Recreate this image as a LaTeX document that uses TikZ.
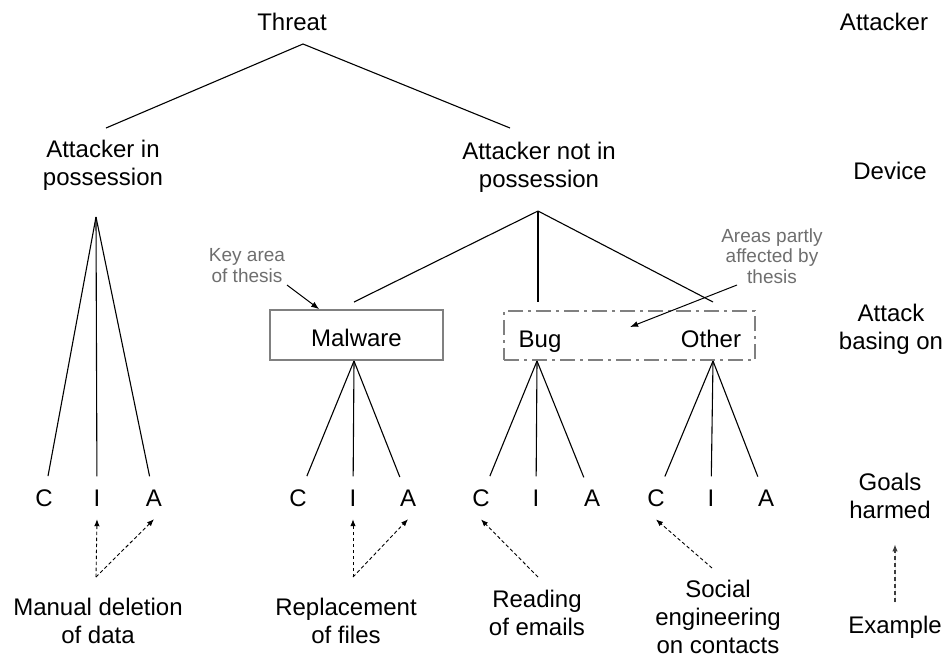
\documentclass[tikz,border=0pt]{standalone}
\usepackage{fontspec}
\setmainfont{Liberation Sans}
\usetikzlibrary{arrows.meta,calc}
\definecolor{boxgray}{HTML}{808080}
\definecolor{notegray}{HTML}{6E6E6E}
\definecolor{hintgray}{HTML}{3C3C3C}
\begin{document}
\begin{tikzpicture}[x=1pt,y=-1pt,
  % multi-line labels are placed by the baseline of their last line
  lbl/.style={inner sep=0pt, anchor=base, align=center,
    font=\fontsize{24}{28}\selectfont},
  note/.style={inner sep=0pt, anchor=base, align=center, text=notegray,
    font=\fontsize{19}{20.5}\selectfont},
  goal/.style={inner xsep=0pt, inner ysep=13pt, anchor=base,
    font=\fontsize{24}{28}\selectfont},
  branch/.style={line width=1.1pt},
  hint/.style={line width=0.9pt, dash pattern=on 3.5pt off 2.5pt,
    -{Latex[length=7pt,width=5.5pt]}},
  pointer/.style={line width=1pt, -{Latex[length=8pt,width=6pt]}}
]
\useasboundingbox (0,0) rectangle (947,662);

% level labels in the right column
\node[lbl] (lvA) at (884,30)  {Attacker};
\node[lbl] (lvD) at (890,179) {Device};
\node[lbl] (lvB) at (891,349) {Attack\\basing on};
\node[lbl] (lvG) at (890,518) {Goals\\harmed};
\node[lbl] (lvE) at (895,633) {Example};
\draw[hint, draw=hintgray, fill=hintgray, line width=1.1pt,
  dash pattern=on 4pt off 3pt, shorten <=13pt, shorten >=26pt]
  (lvE.north) -- (lvE.north |- lvG.south);

% root and device level
\node[lbl] (threat) at (292,30) {Threat};
\node[lbl] (inposs) at (103,185) {Attacker in\\possession};
\node[lbl] (notposs) at (539,187) {Attacker not in\\possession};

\coordinate (tApex) at (303,44);
\coordinate (tLeft) at (106,128);
\coordinate (tRight) at (510,128);
\draw[branch] (tLeft) -- (tApex) -- (tRight);

% attack basis
\node[draw=boxgray, line width=1.6pt, minimum width=173pt, minimum height=50pt,
  inner sep=0pt, text height=22pt, text depth=0pt,
  font=\fontsize{24}{28}\selectfont] (malware) at (356.5,335) {Malware};
\node[draw=boxgray, line width=1.6pt, dash pattern=on 15pt off 5pt on 3pt off 5pt,
  minimum width=251pt, minimum height=49pt, inner sep=0pt] (partbox) at (629.5,335.5) {};
\node[lbl] (bug) at (540,347) {Bug};
\node[lbl] (other) at (711,347) {Other};

\coordinate (nApex) at (538,211);
\coordinate (nMal) at (354,302);
\coordinate (nBug) at (538,302);
\coordinate (nOth) at (713,302);
\draw[branch] (nApex) -- (nMal);
\draw[branch] (nApex) -- (nBug);
\draw[branch] (nApex) -- (nOth);

% goals harmed: C I A under every branch
\coordinate (pApex) at (96,217);
\node[goal] (pC) at (44,506) {C};
\node[goal] (pI) at (97,506) {I};
\node[goal] (pA) at (154,506) {A};
\draw[branch] (pApex) -- (pC);
\draw[branch] (pApex) -- (pI);
\draw[branch] (pApex) -- (pA);

\coordinate (mApex) at (354,361);
\node[goal] (mC) at (298,506) {C};
\node[goal] (mI) at (353,506) {I};
\node[goal] (mA) at (408,506) {A};
\draw[branch] (mApex) -- (mC);
\draw[branch] (mApex) -- (mI);
\draw[branch] (mApex) -- (mA);

\coordinate (bApex) at (537,361);
\node[goal] (bC) at (481,506) {C};
\node[goal] (bI) at (536,506) {I};
\node[goal] (bA) at (592,506) {A};
\draw[branch] (bApex) -- (bC);
\draw[branch] (bApex) -- (bI);
\draw[branch] (bApex) -- (bA);

\coordinate (oApex) at (713,361);
\node[goal] (oC) at (656,506) {C};
\node[goal] (oI) at (711,506) {I};
\node[goal] (oA) at (766,506) {A};
\draw[branch] (oApex) -- (oC);
\draw[branch] (oApex) -- (oI);
\draw[branch] (oApex) -- (oA);

% examples
\node[lbl] (exManual) at (98,643) {Manual deletion\\of data};
\node[lbl] (exReplace) at (346,643) {Replacement\\of files};
\node[lbl] (exRead) at (537,635) {Reading\\of emails};
\node[lbl] (exSocial) at (718,653) {Social\\engineering\\on contacts};

\coordinate (manualTail) at (96,577);
\coordinate (replaceTail) at (353,577);
\coordinate (readTail) at (538,577);
\coordinate (socialTail) at (712,568);
\draw[hint] (manualTail) -- (pI.south);
\draw[hint] (manualTail) -- (pA.south);
\draw[hint] (replaceTail) -- (mI.south);
\draw[hint] (replaceTail) -- (mA.south);
\draw[hint] (readTail) -- (bC.south);
\draw[hint] (socialTail) -- (oC.south);

% notes on the thesis scope
\node[note] (keynote) at (247,282) {Key area\\of thesis};
\node[note] (areasnote) at (772,283) {Areas partly\\affected by\\thesis};
\coordinate (keyTail) at (287,285);
\coordinate (areasTail) at (737,285);
\coordinate (areasTip) at (630,327);
\draw[pointer] (keyTail) -- ($(malware.north west)+(50,0)$);
\draw[pointer] (areasTail) -- (areasTip);
\end{tikzpicture}
\end{document}
